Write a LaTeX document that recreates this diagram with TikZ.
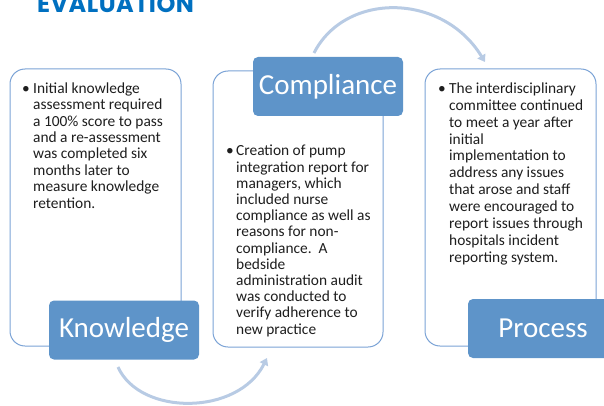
\documentclass[tikz,border=0pt]{standalone}
\usepackage{fontspec}
\setmainfont{Carlito}
\newfontfamily\titlefont{Poppins}[LetterSpace=2]
\usetikzlibrary{arrows.meta}
\definecolor{boxline}{HTML}{7BA3D6}
\definecolor{labelfill}{HTML}{5E94C9}
\definecolor{arrowcol}{HTML}{B8CBE4}
\definecolor{titleblue}{HTML}{0070C0}
\definecolor{bodytext}{HTML}{1E1E1E}
\tikzset{
  panel/.style={draw=boxline, line width=1pt, fill=white, rounded corners=15pt, inner sep=0pt},
  tag/.style={fill=labelfill, rounded corners=5pt, text=white, inner sep=0pt,
    font=\fontsize{29}{32}\selectfont, minimum width=150pt, minimum height=59pt},
  body/.style={anchor=north west, inner sep=0pt, align=left, text=bodytext},
  bul/.style={anchor=base west, inner sep=0pt, text=bodytext, font=\fontsize{15.4}{16}\selectfont}
}
\begin{document}
\begin{tikzpicture}[x=1pt,y=-1pt]
\useasboundingbox (0,0) rectangle (604,406);
\clip (0,0) rectangle (604,406);
\node[anchor=base west, inner sep=0pt, text=titleblue, font=\titlefont\bfseries\fontsize{24}{24}\selectfont] (title) at (37,13) {EVALUATION};
% panels
\node[panel, minimum width=171pt, minimum height=277pt] (p1) at (95.5,207.5) {};
\node[panel, minimum width=170pt, minimum height=276pt] (p2) at (298,209) {};
\node[panel, minimum width=171pt, minimum height=277pt] (p3) at (510.5,207.5) {};
% body text
\node[bul] (b1) at (22,93.5) {•};
\node[body, font=\fontsize{15.4}{16.4}\selectfont] (t1) at (33,82.5) {Initial knowledge\\assessment required\\a 100\% score to pass\\and a re-assessment\\was completed six\\months later to\\measure knowledge\\retention.};
\node[bul] (b2) at (226,156) {•};
\node[body, font=\fontsize{15.4}{16.2}\selectfont] (t2) at (236,145) {Creation of pump\\integration report for\\managers, which\\included nurse\\compliance as well as\\reasons for non-\\compliance.~~A\\bedside\\administration audit\\was conducted to\\verify adherence to\\new practice};
\node[bul] (b3) at (438,93.5) {•};
\node[body, font=\fontsize{15.4}{16.9}\selectfont] (t3) at (449,82.5) {The interdisciplinary\\committee continued\\to meet a year after\\initial\\implementation to\\address any issues\\that arose and staff\\were encouraged to\\report issues through\\hospitals incident\\reporting system.};
% labels
\node[tag] (k) at (124,330) {Knowledge};
\node[tag] (c) at (328,86.5) {Compliance};
\node[tag] (pr) at (543,328.5) {Process};
% arrows
\tikzset{cycarrow/.style={draw=arrowcol, line width=3pt, -{Triangle[length=7pt,width=9pt]}}}
\coordinate (a1s) at (118,367);
\coordinate (a1c1) at (140,416);
\coordinate (a1c2) at (238,416);
\coordinate (a1e) at (267,358);
\draw[cycarrow] (a1s) .. controls (a1c1) and (a1c2) .. (a1e);
\coordinate (a2s) at (314,53);
\coordinate (a2c1) at (345,-8);
\coordinate (a2c2) at (442,-8);
\coordinate (a2e) at (485,62);
\draw[cycarrow] (a2s) .. controls (a2c1) and (a2c2) .. (a2e);
\end{tikzpicture}
\end{document}
